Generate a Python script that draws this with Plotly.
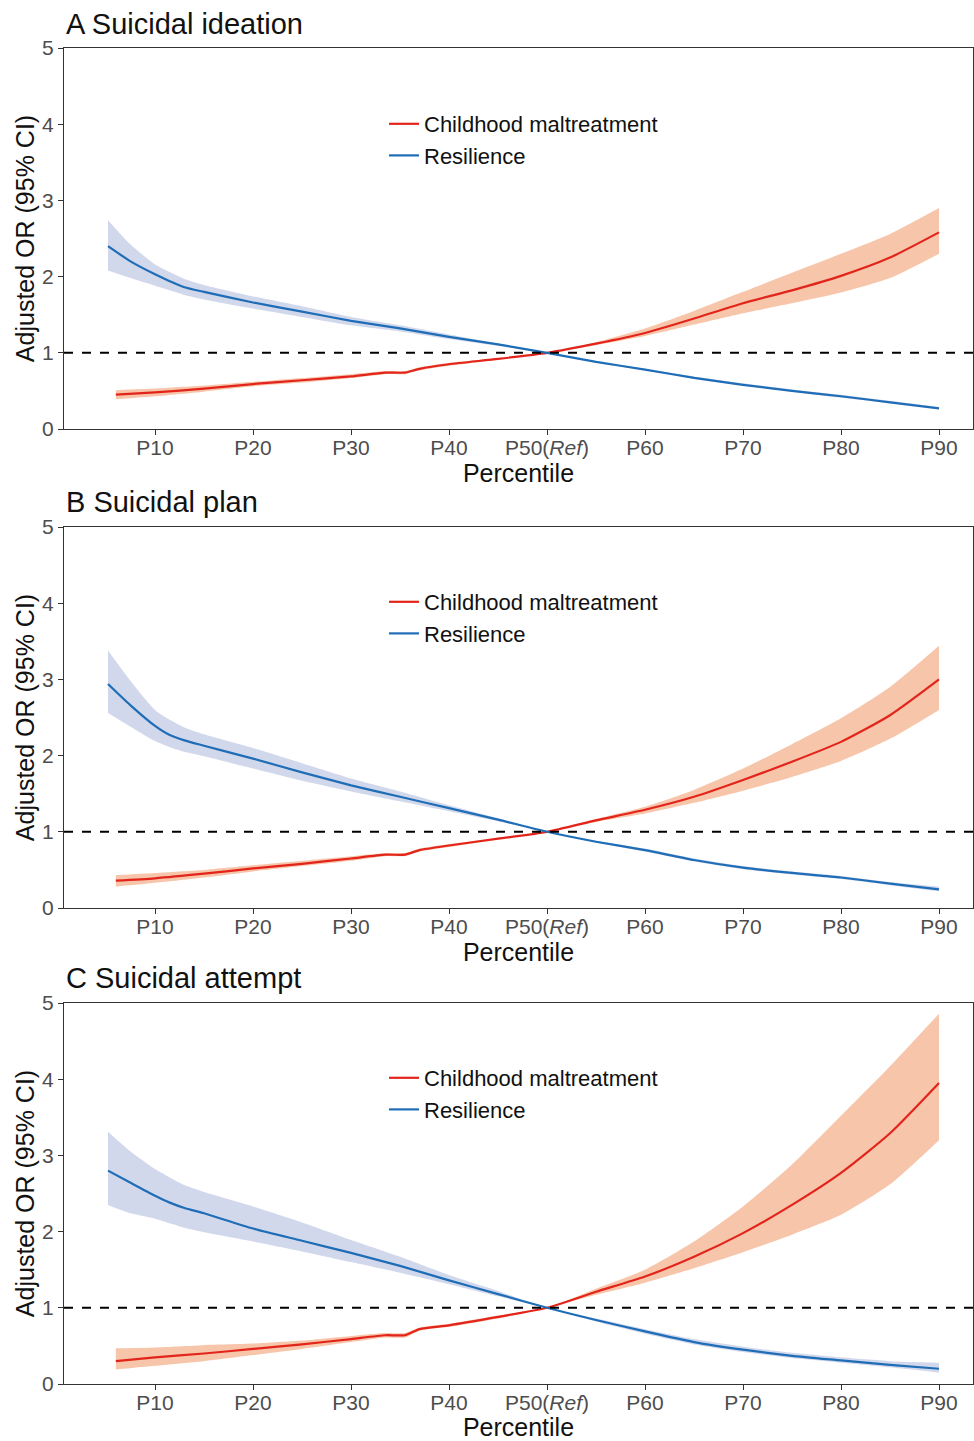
import plotly.graph_objects as go

# ---------------- data ----------------
blue_x = [5.2, 7.5, 10, 11.5, 13, 15, 20, 25, 30, 35, 40, 45, 50, 55, 60, 65, 70, 75, 80, 85, 90]
red_x = [6, 10, 15, 20, 25, 30, 33.5, 35.5, 37, 40, 45, 50, 55, 60, 65, 70, 75, 80, 85, 90]

panel_titles = ["A Suicidal ideation", "B Suicidal plan", "C Suicidal attempt"]

# Panel A
a_res = [2.40, 2.20, 2.03, 1.94, 1.86, 1.80, 1.66, 1.54, 1.42, 1.32, 1.21, 1.11, 1.0, 0.88, 0.78, 0.67, 0.58, 0.50, 0.43, 0.35, 0.27]
a_res_hi = [2.74, 2.42, 2.16, 2.06, 1.97, 1.89, 1.74, 1.61, 1.47, 1.36, 1.24, 1.12, 1.0, 0.89, 0.79, 0.69, 0.60, 0.52, 0.45, 0.37, 0.29]
a_res_lo = [2.08, 1.98, 1.88, 1.82, 1.76, 1.70, 1.58, 1.47, 1.36, 1.28, 1.18, 1.09, 1.0, 0.87, 0.77, 0.66, 0.57, 0.49, 0.41, 0.34, 0.26]
a_cm = [0.45, 0.48, 0.53, 0.59, 0.64, 0.69, 0.74, 0.74, 0.79, 0.85, 0.92, 1.0, 1.12, 1.26, 1.45, 1.65, 1.82, 2.01, 2.25, 2.58]
a_cm_hi = [0.51, 0.53, 0.57, 0.62, 0.67, 0.72, 0.76, 0.76, 0.81, 0.87, 0.93, 1.0, 1.14, 1.32, 1.55, 1.80, 2.05, 2.30, 2.56, 2.90]
a_cm_lo = [0.39, 0.43, 0.49, 0.56, 0.61, 0.67, 0.72, 0.72, 0.77, 0.83, 0.91, 1.0, 1.10, 1.22, 1.37, 1.52, 1.65, 1.79, 1.98, 2.30]

# Panel B
b_res = [2.94, 2.66, 2.39, 2.27, 2.20, 2.13, 1.96, 1.78, 1.61, 1.46, 1.31, 1.16, 1.0, 0.87, 0.76, 0.63, 0.53, 0.46, 0.40, 0.32, 0.245]
b_res_hi = [3.38, 2.98, 2.60, 2.47, 2.37, 2.28, 2.10, 1.90, 1.70, 1.53, 1.35, 1.18, 1.0, 0.88, 0.78, 0.65, 0.55, 0.48, 0.42, 0.34, 0.28]
b_res_lo = [2.56, 2.38, 2.19, 2.11, 2.05, 1.99, 1.83, 1.67, 1.53, 1.40, 1.27, 1.14, 1.0, 0.86, 0.74, 0.61, 0.51, 0.44, 0.38, 0.30, 0.22]
b_cm = [0.36, 0.39, 0.45, 0.52, 0.58, 0.65, 0.70, 0.70, 0.76, 0.82, 0.91, 1.0, 1.15, 1.29, 1.46, 1.68, 1.92, 2.18, 2.53, 3.00]
b_cm_hi = [0.43, 0.46, 0.50, 0.56, 0.62, 0.68, 0.72, 0.72, 0.78, 0.84, 0.92, 1.0, 1.17, 1.33, 1.55, 1.83, 2.15, 2.49, 2.90, 3.44]
b_cm_lo = [0.28, 0.33, 0.40, 0.48, 0.55, 0.62, 0.68, 0.68, 0.74, 0.80, 0.90, 1.0, 1.13, 1.24, 1.38, 1.54, 1.72, 1.93, 2.22, 2.60]

# Panel C
c_res = [2.80, 2.64, 2.47, 2.38, 2.31, 2.24, 2.04, 1.88, 1.72, 1.55, 1.36, 1.18, 1.0, 0.84, 0.69, 0.55, 0.45, 0.37, 0.31, 0.25, 0.20]
c_res_hi = [3.31, 3.05, 2.82, 2.71, 2.61, 2.52, 2.33, 2.12, 1.89, 1.67, 1.43, 1.22, 1.0, 0.86, 0.72, 0.59, 0.49, 0.41, 0.35, 0.30, 0.28]
c_res_lo = [2.35, 2.24, 2.17, 2.11, 2.05, 1.99, 1.87, 1.74, 1.60, 1.46, 1.31, 1.15, 1.0, 0.82, 0.66, 0.52, 0.42, 0.34, 0.28, 0.22, 0.15]
c_cm = [0.30, 0.35, 0.40, 0.46, 0.52, 0.59, 0.64, 0.64, 0.72, 0.77, 0.88, 1.0, 1.21, 1.41, 1.67, 1.98, 2.35, 2.77, 3.29, 3.95]
c_cm_hi = [0.47, 0.48, 0.51, 0.53, 0.57, 0.63, 0.67, 0.67, 0.74, 0.79, 0.90, 1.0, 1.25, 1.50, 1.87, 2.33, 2.88, 3.52, 4.17, 4.86]
c_cm_lo = [0.19, 0.24, 0.30, 0.38, 0.46, 0.55, 0.61, 0.61, 0.70, 0.75, 0.86, 1.0, 1.17, 1.33, 1.52, 1.73, 1.96, 2.22, 2.62, 3.20]

tick_vals = [10, 20, 30, 40, 50, 60, 70, 80, 90]
tick_text = ["P10", "P20", "P30", "P40", "P50(<i>Ref</i>)", "P60", "P70", "P80", "P90"]

panels = [
    (a_cm, a_cm_hi, a_cm_lo, a_res, a_res_hi, a_res_lo),
    (b_cm, b_cm_hi, b_cm_lo, b_res, b_res_hi, b_res_lo),
    (c_cm, c_cm_hi, c_cm_lo, c_res, c_res_hi, c_res_lo),
]

# ---------------- styling ----------------
RED = "#E3241B"
BLUE = "#1E6DB6"
RED_FILL = "rgba(240,150,100,0.55)"
BLUE_FILL = "rgba(165,178,218,0.5)"
FONT = "Arial, Liberation Sans, sans-serif"

H = 1441
W = 974
L, R = 64, 1
pix = [(48, 429), (527, 908), (1003, 1384)]
legend_tops = [103, 581, 1057]
title_y = [24, 502, 978]

fig = go.Figure()
legend_names = ["legend", "legend2", "legend3"]
SPL = dict(shape="spline", smoothing=0.6)

for i, (cm, cm_hi, cm_lo, rs, rs_hi, rs_lo) in enumerate(panels):
    xa = "x" if i == 0 else f"x{i+1}"
    ya = "y" if i == 0 else f"y{i+1}"
    lg = legend_names[i]
    fig.add_trace(go.Scatter(x=red_x, y=cm_lo, mode="lines", line=dict(width=0, **SPL), xaxis=xa, yaxis=ya,
                             showlegend=False, hoverinfo="skip"))
    fig.add_trace(go.Scatter(x=red_x, y=cm_hi, mode="lines", line=dict(width=0, **SPL), fill="tonexty",
                             fillcolor=RED_FILL, xaxis=xa, yaxis=ya, showlegend=False, hoverinfo="skip"))
    fig.add_trace(go.Scatter(x=blue_x, y=rs_lo, mode="lines", line=dict(width=0, **SPL), xaxis=xa, yaxis=ya,
                             showlegend=False, hoverinfo="skip"))
    fig.add_trace(go.Scatter(x=blue_x, y=rs_hi, mode="lines", line=dict(width=0, **SPL), fill="tonexty",
                             fillcolor=BLUE_FILL, xaxis=xa, yaxis=ya, showlegend=False, hoverinfo="skip"))
    fig.add_trace(go.Scatter(x=red_x, y=cm, mode="lines", line=dict(color=RED, width=2.2, **SPL),
                             name="Childhood maltreatment", xaxis=xa, yaxis=ya, legend=lg, showlegend=True))
    fig.add_trace(go.Scatter(x=blue_x, y=rs, mode="lines", line=dict(color=BLUE, width=2.2, **SPL),
                             name="Resilience", xaxis=xa, yaxis=ya, legend=lg, showlegend=True))

    top, bot = pix[i]
    dom = [1 - bot / H, 1 - top / H]
    ax_common = dict(showline=True, linecolor="#333333", linewidth=1.3, mirror=True,
                     ticks="outside", ticklen=5, tickcolor="#333333", tickwidth=1.3,
                     showgrid=False, zeroline=False, automargin=False,
                     tickfont=dict(family=FONT, size=21, color="#4D4D4D"))
    fig.update_layout(**{
        ("xaxis" if i == 0 else f"xaxis{i+1}"): dict(
            domain=[0, 1], anchor=ya, range=[0.71, 93.47],
            tickvals=tick_vals, ticktext=tick_text, ticklabelstandoff=-5,
            title=dict(text="Percentile", font=dict(family=FONT, size=25, color="#111111"), standoff=0),
            **ax_common),
        ("yaxis" if i == 0 else f"yaxis{i+1}"): dict(
            domain=dom, anchor=xa, range=[0, 5], tickvals=[0, 1, 2, 3, 4, 5],
            title=dict(text="Adjusted OR (95% CI)", font=dict(family=FONT, size=25, color="#111111"), standoff=0),
            **ax_common),
        lg: dict(x=(384 - L) / (W - L - R), xanchor="left", y=1 - legend_tops[i] / H, yanchor="top",
                 font=dict(family=FONT, size=22, color="#111111"), bgcolor="rgba(0,0,0,0)",
                 itemwidth=30, traceorder="normal", tracegroupgap=0),
    })
    fig.add_shape(type="line", xref=f"{xa} domain", yref=ya, x0=0, x1=1, y0=1, y1=1,
                  line=dict(color="black", width=2, dash="dash"))
    fig.add_annotation(text=panel_titles[i], xref="paper", yref="paper", x=0, xanchor="left",
                       y=1 - title_y[i] / H, yanchor="middle", showarrow=False,
                       font=dict(family=FONT, size=29, color="#111111"))

fig.update_layout(width=W, height=H, margin=dict(l=L, r=R, t=0, b=0, autoexpand=False),
                  paper_bgcolor="white", plot_bgcolor="white")

fig.write_html("out.html", config={"displayModeBar": False},
               post_script="document.body.style.margin='0';")
